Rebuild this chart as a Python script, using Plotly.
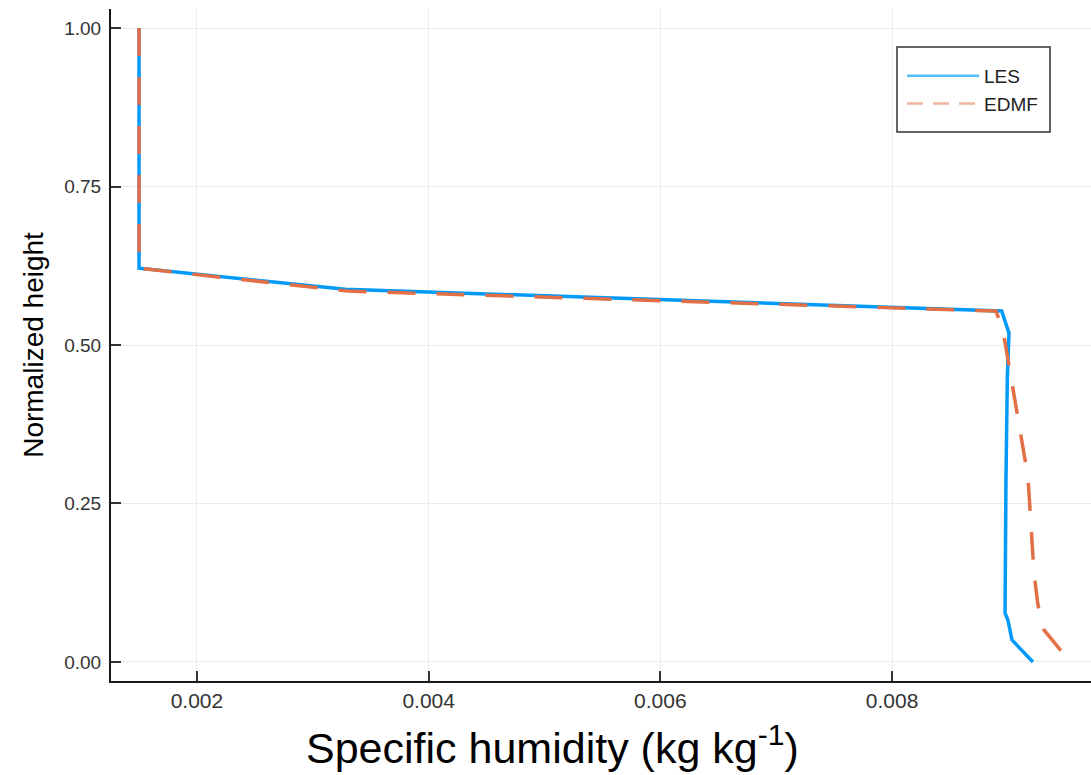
import plotly.graph_objects as go

# Vertical profiles of specific humidity against normalized height
les_height = [1.0, 0.621, 0.588, 0.5536, 0.519, 0.45, 0.287, 0.15, 0.0773, 0.066, 0.0347, 0.0]
les_q = [0.0015, 0.0015, 0.00328, 0.008946, 0.009009, 0.008995, 0.008983, 0.008978,
         0.008975, 0.009000, 0.009035, 0.009216]

edmf_height = [1.0, 0.621, 0.585, 0.5536, 0.5237, 0.448, 0.3707, 0.2918, 0.216, 0.140,
               0.0899, 0.0505, 0.0]
edmf_q = [0.0015, 0.0015, 0.00330, 0.008897, 0.008957, 0.009026, 0.009095, 0.009173,
          0.009199, 0.009225, 0.009259, 0.009311, 0.009536]

x_ticks = [0.002, 0.004, 0.006, 0.008]
x_tick_text = ["0.002", "0.004", "0.006", "0.008"]
y_ticks = [0.0, 0.25, 0.5, 0.75, 1.0]
y_tick_text = ["0.00", "0.25", "0.50", "0.75", "1.00"]

BLUE = "#009AFA"
ORANGE = "#E26F46"
FONT = "Liberation Sans, Arial, sans-serif"

fig = go.Figure()
fig.add_trace(go.Scatter(
    x=les_q, y=les_height, mode="lines", name="LES", legendgroup="les",
    showlegend=False, line=dict(color=BLUE, width=3.5),
))
fig.add_trace(go.Scatter(
    x=edmf_q, y=edmf_height, mode="lines", name="EDMF", legendgroup="edmf",
    showlegend=False, line=dict(color=ORANGE, width=3.5, dash="28px,21px"),
))
# lighter legend keys for the two profiles
fig.add_trace(go.Scatter(
    x=[None], y=[None], mode="lines", name="LES", legendgroup="les",
    line=dict(color="#55BDF7", width=2.5),
))
fig.add_trace(go.Scatter(
    x=[None], y=[None], mode="lines", name="EDMF", legendgroup="edmf",
    line=dict(color="#EEB49E", width=2.5, dash="16px,10px"),
))

axis_common = dict(
    showgrid=True, gridcolor="#ebebeb", gridwidth=1,
    showline=True, linecolor="#1a1a1a", linewidth=2,
    ticks="inside", ticklen=10, tickcolor="#333333", tickwidth=1.5,
    zeroline=False, mirror=False,
)

fig.update_xaxes(
    **axis_common,
    range=[0.001258, 0.009717],
    tickvals=x_ticks, ticktext=x_tick_text,
    tickfont=dict(family=FONT, size=21, color="#333333"),
    ticklabelstandoff=0,
)
fig.update_yaxes(
    **axis_common,
    range=[-0.0300, 1.0300],
    tickvals=y_ticks, ticktext=y_tick_text,
    tickfont=dict(family=FONT, size=19, color="#333333"),
    ticklabelstandoff=4,
    title=dict(text="Normalized height", font=dict(family=FONT, size=28, color="#000000"),
               standoff=12),
)

fig.add_annotation(
    text="Specific humidity (kg kg<sup>-1</sup>)",
    xref="paper", yref="paper", x=0.451, y=-0.095,
    xanchor="center", yanchor="middle", showarrow=False,
    font=dict(family=FONT, size=43, color="#000000"),
)

# legend frame
fig.add_shape(
    type="rect", xref="paper", yref="paper",
    x0=(897 - 111) / 980, x1=(1050 - 111) / 980,
    y0=(681 - 132) / 672, y1=(681 - 47) / 672,
    line=dict(color="#333333", width=1.5), fillcolor="rgba(0,0,0,0)", layer="above",
)

fig.update_layout(
    width=1091, height=775,
    margin=dict(l=111, r=0, t=9, b=94),
    plot_bgcolor="white", paper_bgcolor="white",
    legend=dict(
        x=(902 - 111) / 980, y=(681 - 57) / 672, xanchor="left", yanchor="top",
        bgcolor="rgba(0,0,0,0)", borderwidth=0,
        font=dict(family=FONT, size=19, color="#222222"),
        itemwidth=72, tracegroupgap=0,
    ),
)

fig.write_html("out.html")
